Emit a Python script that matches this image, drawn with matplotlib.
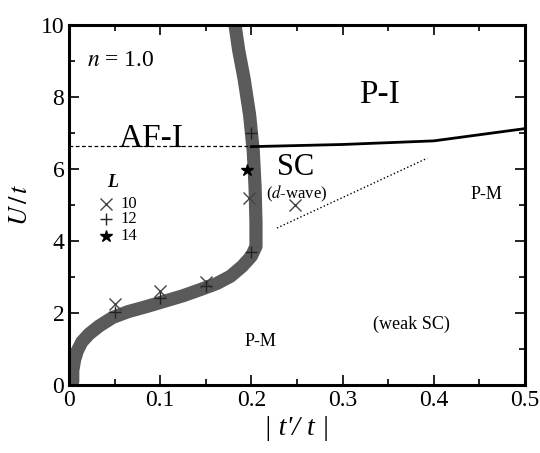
import matplotlib
matplotlib.use("Agg")
from matplotlib import pyplot as plt
from matplotlib.ticker import MultipleLocator

plt.rcParams['font.family'] = ['Liberation Serif', 'DejaVu Serif']
plt.rcParams['mathtext.fontset'] = 'stix'

# thick boundary (AF-I / paramagnetic)
boundary_x = [0.004, 0.004, 0.006, 0.009, 0.014, 0.022, 0.033, 0.048, 0.065, 0.085, 0.105, 0.125,
              0.145, 0.162, 0.177, 0.19, 0.2, 0.205, 0.205, 0.204, 0.202, 0.198, 0.192, 0.186, 0.182]
boundary_y = [0.1, 0.4, 0.7, 0.95, 1.2, 1.42, 1.64, 1.88, 2.04, 2.18, 2.33, 2.48,
              2.66, 2.82, 3.02, 3.3, 3.58, 3.85, 4.5, 5.5, 6.5, 7.5, 8.5, 9.3, 10.0]

# first-order line between P-I and SC / P-M
pi_x = [0.2, 0.3, 0.4, 0.5]
pi_y = [6.62, 6.68, 6.78, 7.12]

# dashed AF-I line
af_x = [0.0, 0.2]
af_y = [6.64, 6.64]

# dotted SC crossover
sc_x = [0.228, 0.393]
sc_y = [4.36, 6.3]

# data points for the three lattice sizes
L10_x = [0.05, 0.1, 0.15, 0.197, 0.248]
L10_y = [2.25, 2.62, 2.86, 5.2, 5.0]
L12_x = [0.05, 0.1, 0.15, 0.2, 0.2]
L12_y = [2.02, 2.42, 2.76, 3.7, 7.0]
L14_x = [0.195]
L14_y = [5.98]

fig, ax = plt.subplots(figsize=(5.4, 4.53), dpi=100)
fig.subplots_adjust(left=0.128, right=0.972, top=0.945, bottom=0.15)

ax.plot(boundary_x, boundary_y, '-', color='#5a5a5a', lw=9.5, solid_capstyle='round',
        solid_joinstyle='round', zorder=2)
ax.plot(pi_x, pi_y, 'k-', lw=2.0, zorder=3)
ax.plot(af_x, af_y, 'k--', lw=0.9, dashes=(3, 2), zorder=3)
ax.plot(sc_x, sc_y, 'k:', lw=1.0, zorder=3)

ax.plot(L10_x, L10_y, 'x', color='#444444', ms=8, mew=1.0, zorder=4)
ax.plot(L12_x, L12_y, '+', color='#222222', ms=9, mew=1.0, zorder=4)
ax.plot(L14_x, L14_y, '*', color='k', ms=9, zorder=4)

# legend drawn by hand
ax.text(0.048, 5.5, 'L', fontsize=13, style='italic', fontweight='bold', ha='center')
ax.plot([0.04], [5.03], 'x', color='#444444', ms=8, mew=1.0)
ax.plot([0.04], [4.6], '+', color='#222222', ms=9, mew=1.0)
ax.plot([0.04], [4.15], '*', color='k', ms=9)
ax.text(0.056, 5.03, '10', fontsize=12, va='center')
ax.text(0.056, 4.6, '12', fontsize=12, va='center')
ax.text(0.056, 4.15, '14', fontsize=12, va='center')

ax.text(0.02, 9.0, r'$n$ = 1.0', fontsize=17, va='center')
ax.text(0.34, 8.05, 'P-I', fontsize=24, ha='center', va='center')
ax.text(0.09, 6.85, 'AF-I', fontsize=24, ha='center', va='center')
ax.text(0.248, 6.05, 'SC', fontsize=22, ha='center', va='center')
ax.text(0.25, 5.3, r'($d$-wave)', fontsize=12, ha='center', va='center')
ax.text(0.458, 5.3, 'P-M', fontsize=13, ha='center', va='center')
ax.text(0.21, 1.2, 'P-M', fontsize=13, ha='center', va='center')
ax.text(0.375, 1.68, '(weak SC)', fontsize=13, ha='center', va='center')

ax.set_xlim(0, 0.5)
ax.set_ylim(0, 10)
ax.xaxis.set_minor_locator(MultipleLocator(0.05))
ax.yaxis.set_major_locator(MultipleLocator(2))
ax.yaxis.set_minor_locator(MultipleLocator(1))
ax.set_xticks([0, 0.1, 0.2, 0.3, 0.4, 0.5])
ax.set_xticklabels(['0', '0.1', '0.2', '0.3', '0.4', '0.5'])
ax.tick_params(which='both', direction='in', top=True, right=True, labelsize=17, width=1.2)
ax.tick_params(which='major', length=7)
ax.tick_params(which='minor', length=4)
for s in ax.spines.values():
    s.set_linewidth(2.2)

ax.set_xlabel("| t'/ t |", fontsize=20, style='italic', labelpad=4)
ax.set_ylabel(r"$U\,/\,t$", fontsize=19, labelpad=6)

plt.savefig('out.png', dpi=100)
